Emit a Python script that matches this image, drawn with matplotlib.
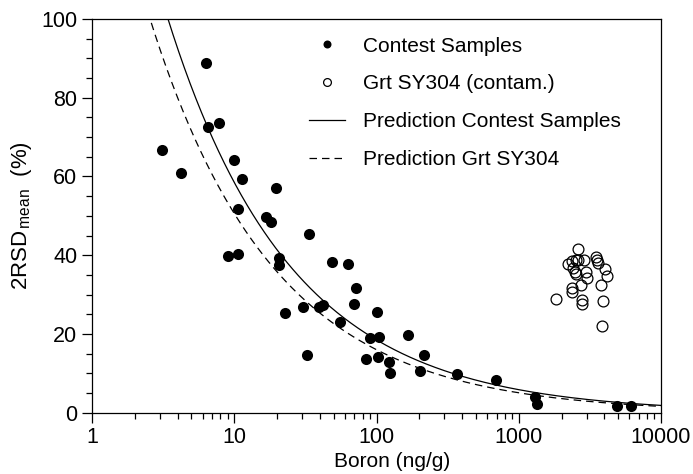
import numpy as np
import matplotlib
matplotlib.use("Agg")
import matplotlib.pyplot as plt
from matplotlib.ticker import FixedLocator, FixedFormatter, MultipleLocator, LogLocator, NullFormatter

plt.rcParams['font.family'] = ['Liberation Sans', 'DejaVu Sans']
plt.rcParams['mathtext.fontset'] = 'custom'
plt.rcParams['mathtext.rm'] = 'Liberation Sans'
plt.rcParams['mathtext.it'] = 'Liberation Sans'

# Contest samples: boron (ng/g) and 2RSD_mean (%)
contest_boron = [3.1, 4.2, 6.3, 6.5, 7.8, 10.0, 11.3, 19.5, 10.6, 16.6, 18.1, 33.7,
                 9.0, 10.6, 20.7, 20.5, 22.6, 30.6, 32.5, 39.2, 42.1, 48.7, 55.1,
                 63.0, 72.2, 69.5, 100.8, 89.6, 104.7, 84.4, 103, 122.4, 125,
                 165.6, 216, 202, 366, 697, 1309, 1338, 4886, 6150]
contest_rsd = [66.7, 60.9, 88.7, 72.6, 73.6, 64.3, 59.4, 57.2, 51.8, 49.8, 48.5, 45.3,
               39.9, 40.4, 39.4, 37.4, 25.2, 26.8, 14.6, 26.9, 27.4, 38.4, 23.1,
               37.7, 31.6, 27.5, 25.6, 19.0, 19.2, 13.6, 14.1, 12.8, 10.0,
               19.7, 14.6, 10.7, 9.75, 8.2, 4.1, 2.1, 1.7, 1.8]

# Grt SY304 (contaminated)
grt_boron = [2596, 2208, 2356, 2515, 2622, 2875, 2419, 2485, 2515, 2955, 3005, 2729,
             2381, 2381, 2773, 2773, 1828, 3491, 3532, 3626, 4037, 4150, 3785, 3892, 3865]
grt_rsd = [41.5, 37.7, 38.5, 38.7, 38.7, 38.9, 36.7, 35.8, 35.3, 35.8, 34.1, 32.4,
           31.6, 30.6, 28.6, 27.5, 28.8, 39.6, 38.8, 37.9, 36.5, 34.7, 32.5, 28.4, 22.1]

# Prediction model coefficients: 2RSD = coef * boron^-exponent
pred_contest_coef = 185.0
pred_grt_coef = 160.0
pred_exponent = 0.5

x_ticks = [1, 10, 100, 1000, 10000]
x_ticklabels = ['1', '10', '100', '1000', '10000']
y_ticks = [0, 20, 40, 60, 80, 100]

fig = plt.figure(figsize=(6.93, 4.74), dpi=100)
ax = fig.add_axes([92/693, 1-412.7/474, (661-92)/693, (412.7-19)/474])

xx = np.logspace(0, 4, 500)
ax.plot(xx, pred_contest_coef * xx**(-pred_exponent), color='black', lw=0.9,
        label='Prediction Contest Samples')
ax.plot(xx, pred_grt_coef * xx**(-pred_exponent), color='black', lw=0.9,
        linestyle=(0, (6, 4)), label='Prediction Grt SY304')
ax.plot(contest_boron, contest_rsd, 'o', color='black', ms=8, mew=0,
        label='Contest Samples', zorder=3)
ax.plot(grt_boron, grt_rsd, 'o', mfc='none', mec='black', ms=7.8, mew=0.9,
        label='Grt SY304 (contam.)', zorder=3)

ax.set_xscale('log')
ax.set_xlim(1, 10000)
ax.set_ylim(0, 100)
ax.xaxis.set_major_locator(FixedLocator(x_ticks))
ax.xaxis.set_major_formatter(FixedFormatter(x_ticklabels))
ax.xaxis.set_minor_locator(LogLocator(base=10, subs=np.arange(2, 10)))
ax.xaxis.set_minor_formatter(NullFormatter())
ax.yaxis.set_major_locator(FixedLocator(y_ticks))
ax.yaxis.set_minor_locator(MultipleLocator(5))

for s in ax.spines.values():
    s.set_linewidth(0.9)
ax.tick_params(which='both', direction='out', top=False, right=False, width=0.9)
ax.tick_params(which='major', length=7.5, labelsize=15.5, pad=3)
ax.tick_params(which='minor', length=4)

ax.set_xlabel('Boron (ng/g)', fontsize=15, labelpad=2)
ax.xaxis.set_label_coords((392-92)/569, -0.1)
ax.set_ylabel(r'2RSD$_{\mathrm{\,mean}}$  (%)', fontsize=16, labelpad=5)

h, l = ax.get_legend_handles_labels()
order = [2, 3, 0, 1]
leg = ax.legend([h[i] for i in order], [l[i] for i in order], loc='upper left',
                bbox_to_anchor=((309-92)/569, 0.955), frameon=False, fontsize=15,
                handlelength=1.75, handletextpad=0.85, labelspacing=0.9,
                borderpad=0, borderaxespad=0, markerscale=0.72)

fig.savefig('out.png', dpi=100)
